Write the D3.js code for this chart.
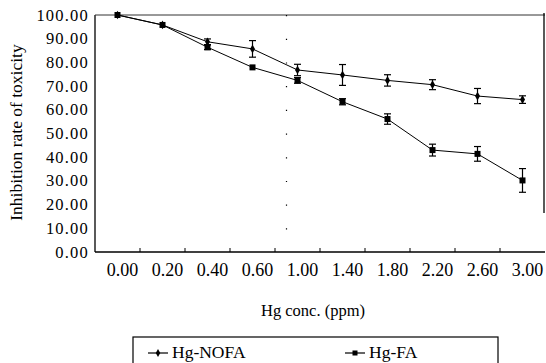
<!DOCTYPE html>
<html><head><meta charset="utf-8">
<script src="https://cdn.jsdelivr.net/npm/d3@7"></script>
<style>body{margin:0;background:#fff}svg{display:block}text{font-family:"Liberation Serif","Times New Roman",serif;fill:#000}</style>
</head><body>
<svg id="c" width="546" height="363"></svg>
<script>
const categories = ["0.00","0.20","0.40","0.60","1.00","1.40","1.80","2.20","2.60","3.00"];
const nofaValues = [100, 95.8, 88.7, 85.7, 76.8, 74.7, 72.4, 70.6, 65.8, 64.3];
const nofaErrors = [0, 0.4, 1.2, 3.5, 2.4, 4.4, 2.4, 2.1, 3.2, 1.6];
const faValues = [100, 95.8, 86.4, 77.9, 72.4, 63.4, 56.1, 43.0, 41.4, 30.2];
const faErrors = [0, 0.4, 1.0, 0.5, 1.2, 1.3, 2.2, 2.5, 3.1, 5.0];
const yTicks = [0,10,20,30,40,50,60,70,80,90,100];
const seriesNames = ["Hg-NOFA","Hg-FA"];

const svg = d3.select("#c");
const L=95, R=545, T=15, B=252;
const x = d3.scaleBand().domain(categories).range([L,R]).padding(0);
const y = d3.scaleLinear().domain([0,100]).range([B,T]);
const cx = c => x(c) + x.bandwidth()/2;

// frame
svg.append("line").attr("x1",L).attr("x2",L).attr("y1",T).attr("y2",B).attr("stroke","#000").attr("stroke-width",1.3);
svg.append("line").attr("x1",L).attr("x2",R).attr("y1",B).attr("y2",B).attr("stroke","#000").attr("stroke-width",1.3);
svg.append("line").attr("x1",L).attr("x2",R).attr("y1",T).attr("y2",T).attr("stroke","#333").attr("stroke-width",1);
svg.append("line").attr("x1",R-1).attr("x2",R-1).attr("y1",T-2).attr("y2",213).attr("stroke","#000").attr("stroke-width",1.3);

// x ticks at band boundaries
categories.slice(1).forEach(c=>{
  svg.append("line").attr("x1",x(c)).attr("x2",x(c)).attr("y1",B).attr("y2",B-4).attr("stroke","#000");
});
// x labels
svg.selectAll(".xl").data(categories).enter().append("text")
  .attr("x",d=>cx(d)+5).attr("y",B+24).attr("text-anchor","middle").attr("font-size",18).text(d=>d);
// y labels
svg.selectAll(".yl").data(yTicks).enter().append("text")
  .attr("x",L-6).attr("y",d=>y(d)+5.5).attr("text-anchor","end").attr("font-size",16.5)
  .attr("letter-spacing",1.2).text(d=>d3.format(".2f")(d));

// dotted break line
svg.append("line").attr("x1",286.5).attr("x2",286.5).attr("y1",T).attr("y2",B)
  .attr("stroke","#000").attr("stroke-width",1.2).attr("stroke-dasharray","1.2,22.5");

// titles
svg.append("text").attr("transform",`translate(22,${(T+B)/2-1}) rotate(-90)`).attr("text-anchor","middle")
  .attr("font-size",17.5).text("Inhibition rate of toxicity");
svg.append("text").attr("x",313).attr("y",316).attr("text-anchor","middle").attr("font-size",16.5).text("Hg conc. (ppm)");

const line = d3.line().x((d,i)=>cx(categories[i])).y(d=>y(d));
function drawSeries(vals, errs, marker){
  svg.append("path").attr("d",line(vals)).attr("fill","none").attr("stroke","#000").attr("stroke-width",1);
  vals.forEach((v,i)=>{
    const px=cx(categories[i]), e=errs[i];
    if(e>0.6){
      svg.append("line").attr("x1",px).attr("x2",px).attr("y1",y(v+e)).attr("y2",y(v-e)).attr("stroke","#000").attr("stroke-width",1.2);
      [v+e,v-e].forEach(w=>svg.append("line").attr("x1",px-3.5).attr("x2",px+3.5).attr("y1",y(w)).attr("y2",y(w)).attr("stroke","#000").attr("stroke-width",1.2));
    }
    if(marker==="d"){
      svg.append("path").attr("d",d3.symbol(d3.symbolDiamond,22)()).attr("transform",`translate(${px},${y(v)})`).attr("fill","#000");
    } else {
      svg.append("rect").attr("x",px-3).attr("y",y(v)-3).attr("width",6).attr("height",6).attr("fill","#000");
    }
  });
}
drawSeries(nofaValues,nofaErrors,"d");
drawSeries(faValues,faErrors,"s");

// legend
svg.append("rect").attr("x",133).attr("y",337).attr("width",365).attr("height",40).attr("fill","none").attr("stroke","#000").attr("stroke-width",1.2);
const leg=[{x:148,m:"d"},{x:345,m:"s"}];
leg.forEach((l,i)=>{
  svg.append("line").attr("x1",l.x).attr("x2",l.x+20).attr("y1",353).attr("y2",353).attr("stroke","#000").attr("stroke-width",1.2);
  if(l.m==="d") svg.append("path").attr("d",d3.symbol(d3.symbolDiamond,18)()).attr("transform",`translate(${l.x+10},353)`).attr("fill","#000");
  else svg.append("rect").attr("x",l.x+10-2.5).attr("y",350.5).attr("width",5).attr("height",5).attr("fill","#000");
  svg.append("text").attr("x",l.x+24).attr("y",358).attr("font-size",17.5).text(seriesNames[i]);
});
</script>
</body></html>
